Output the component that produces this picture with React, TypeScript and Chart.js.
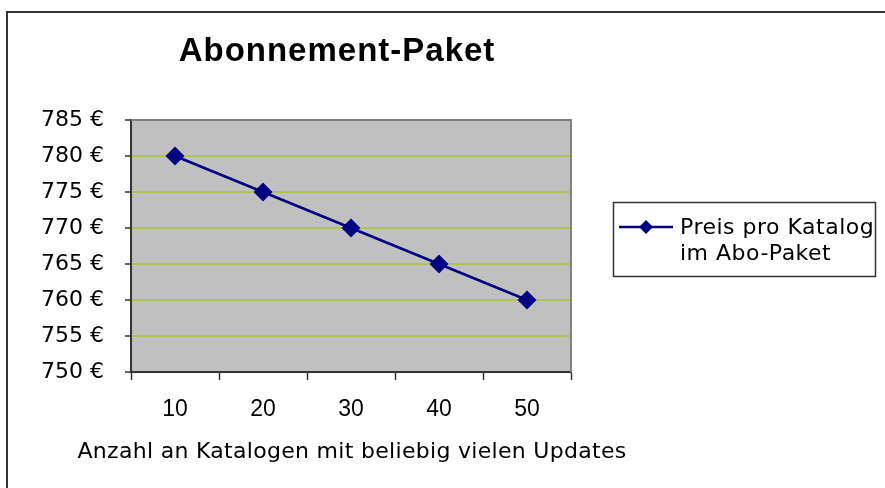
import React, { useEffect, useRef } from 'react';
import { Chart, registerables } from 'chart.js';
Chart.register(...registerables);

const categories = ['10', '20', '30', '40', '50'];
const prices = [780, 775, 770, 765, 760];
const yTickValues = [750, 755, 760, 765, 770, 775, 780, 785];
const chartTitle = 'Abonnement-Paket';
const seriesLabelLines = ['Preis pro Katalog', 'im Abo-Paket'];
const xAxisTitle = 'Anzahl an Katalogen mit beliebig vielen Updates';

const NAVY = '#000080';
const PLOT_BG = '#c0c0c0';
const GRID_GREEN = '#acc652';

const decorPlugin = {
  id: 'decor',
  beforeDraw(chart: any) {
    const { ctx, chartArea: a, width, height } = chart;
    ctx.save();
    ctx.fillStyle = '#ffffff';
    ctx.fillRect(0, 0, width, height);
    // outer frame (left + top visible)
    ctx.strokeStyle = '#333333';
    ctx.lineWidth = 2;
    ctx.beginPath();
    ctx.moveTo(7, height + 5);
    ctx.lineTo(7, 12);
    ctx.lineTo(width + 5, 12);
    ctx.stroke();
    // plot background
    ctx.fillStyle = PLOT_BG;
    ctx.fillRect(a.left, a.top, a.right - a.left, a.bottom - a.top);
    ctx.restore();
  },
  beforeDatasetsDraw(chart: any) {
    const { ctx, chartArea: a } = chart;
    ctx.save();
    ctx.strokeStyle = '#808080';
    ctx.lineWidth = 2;
    ctx.beginPath();
    ctx.moveTo(a.left, a.top);
    ctx.lineTo(a.right, a.top);
    ctx.lineTo(a.right, a.bottom);
    ctx.stroke();
    ctx.restore();
  },
  afterDraw(chart: any) {
    const { ctx, chartArea: a } = chart;
    ctx.save();
    // title
    ctx.fillStyle = '#000000';
    ctx.font = 'bold 33px "Liberation Sans", Arial, sans-serif';
    (ctx as any).letterSpacing = '1px';
    ctx.textAlign = 'center';
    ctx.textBaseline = 'alphabetic';
    ctx.fillText(chartTitle, 337, 61);
    // x axis title
    ctx.font = '22px "DejaVu Sans", Verdana, sans-serif';
    (ctx as any).letterSpacing = '0.3px';
    ctx.textBaseline = 'middle';
    ctx.fillText(xAxisTitle, (a.left + a.right) / 2 + 1, 452);
    // legend box
    (ctx as any).letterSpacing = '0px';
    const ds = chart.data.datasets[0];
    ctx.strokeStyle = '#333333';
    ctx.lineWidth = 1.5;
    ctx.strokeRect(613.5, 202.5, 262, 74);
    ctx.strokeStyle = ds.borderColor;
    ctx.lineWidth = 2.5;
    ctx.beginPath();
    ctx.moveTo(619, 227);
    ctx.lineTo(673, 227);
    ctx.stroke();
    ctx.fillStyle = ds.pointBackgroundColor;
    ctx.beginPath();
    ctx.moveTo(646, 220);
    ctx.lineTo(653, 227);
    ctx.lineTo(646, 234);
    ctx.lineTo(639, 227);
    ctx.closePath();
    ctx.fill();
    ctx.fillStyle = '#000000';
    ctx.font = '22px "DejaVu Sans", Verdana, sans-serif';
    (ctx as any).letterSpacing = '0.5px';
    ctx.textAlign = 'left';
    ctx.textBaseline = 'middle';
    seriesLabelLines.forEach((t, i) => ctx.fillText(t, 680, 228 + i * 26));
    ctx.restore();
  },
};

export default function App() {
  const ref = useRef<HTMLCanvasElement | null>(null);
  useEffect(() => {
    document.body.style.margin = '0';
    const canvas = ref.current!;
    const chart = new Chart(canvas, {
      type: 'line',
      data: {
        labels: categories,
        datasets: [
          {
            label: seriesLabelLines.join(' '),
            data: prices,
            borderColor: NAVY,
            backgroundColor: NAVY,
            pointBackgroundColor: NAVY,
            pointBorderColor: NAVY,
            pointStyle: 'rectRot',
            pointRadius: 9.5,
            pointBorderWidth: 0,
            borderWidth: 2.5,
            tension: 0,
          },
        ],
      },
      options: {
        responsive: false,
        animation: false,
        devicePixelRatio: 1,
        layout: { padding: { left: 0, top: 120, right: 314, bottom: 0 } },
        plugins: {
          legend: { display: false },
          title: { display: false },
          tooltip: { enabled: false },
        },
        scales: {
          x: {
            type: 'category',
            offset: true,
            afterFit(scale: any) {
              scale.height = 116;
            },
            grid: {
              offset: true,
              drawOnChartArea: false,
              drawTicks: true,
              tickLength: 8,
              tickColor: '#333333',
              tickWidth: 1.5,
            },
            border: { display: true, color: '#333333', width: 2 },
            ticks: {
              color: '#000000',
              font: { family: '"Liberation Sans", Arial, sans-serif', size: 23 },
              padding: 16,
              maxRotation: 0,
            },
            title: { display: false },
          },
          y: {
            min: 750,
            max: 785,
            afterFit(scale: any) {
              scale.width = 131;
            },
            afterBuildTicks(scale: any) {
              scale.ticks = yTickValues.map((v) => ({ value: v }));
            },
            grid: {
              color: (c: any) =>
                c.tick && c.tick.value === 785
                  ? '#808080'
                  : c.tick && c.tick.value === 750
                  ? 'rgba(0,0,0,0)'
                  : GRID_GREEN,
              lineWidth: 2,
              drawTicks: true,
              tickLength: 6,
              tickColor: '#333333',
              tickWidth: 1.5,
            },
            border: { display: true, color: '#333333', width: 2 },
            ticks: {
              color: '#000000',
              font: { family: '"DejaVu Sans", Verdana, sans-serif', size: 22 },
              padding: 21,
              callback: (v: any) => `${v} €`,
            },
          },
        },
      },
      plugins: [decorPlugin],
    });
    return () => chart.destroy();
  }, []);
  return (
    <canvas
      ref={ref}
      width={885}
      height={488}
      style={{ display: 'block', width: 885, height: 488 }}
    />
  );
}
